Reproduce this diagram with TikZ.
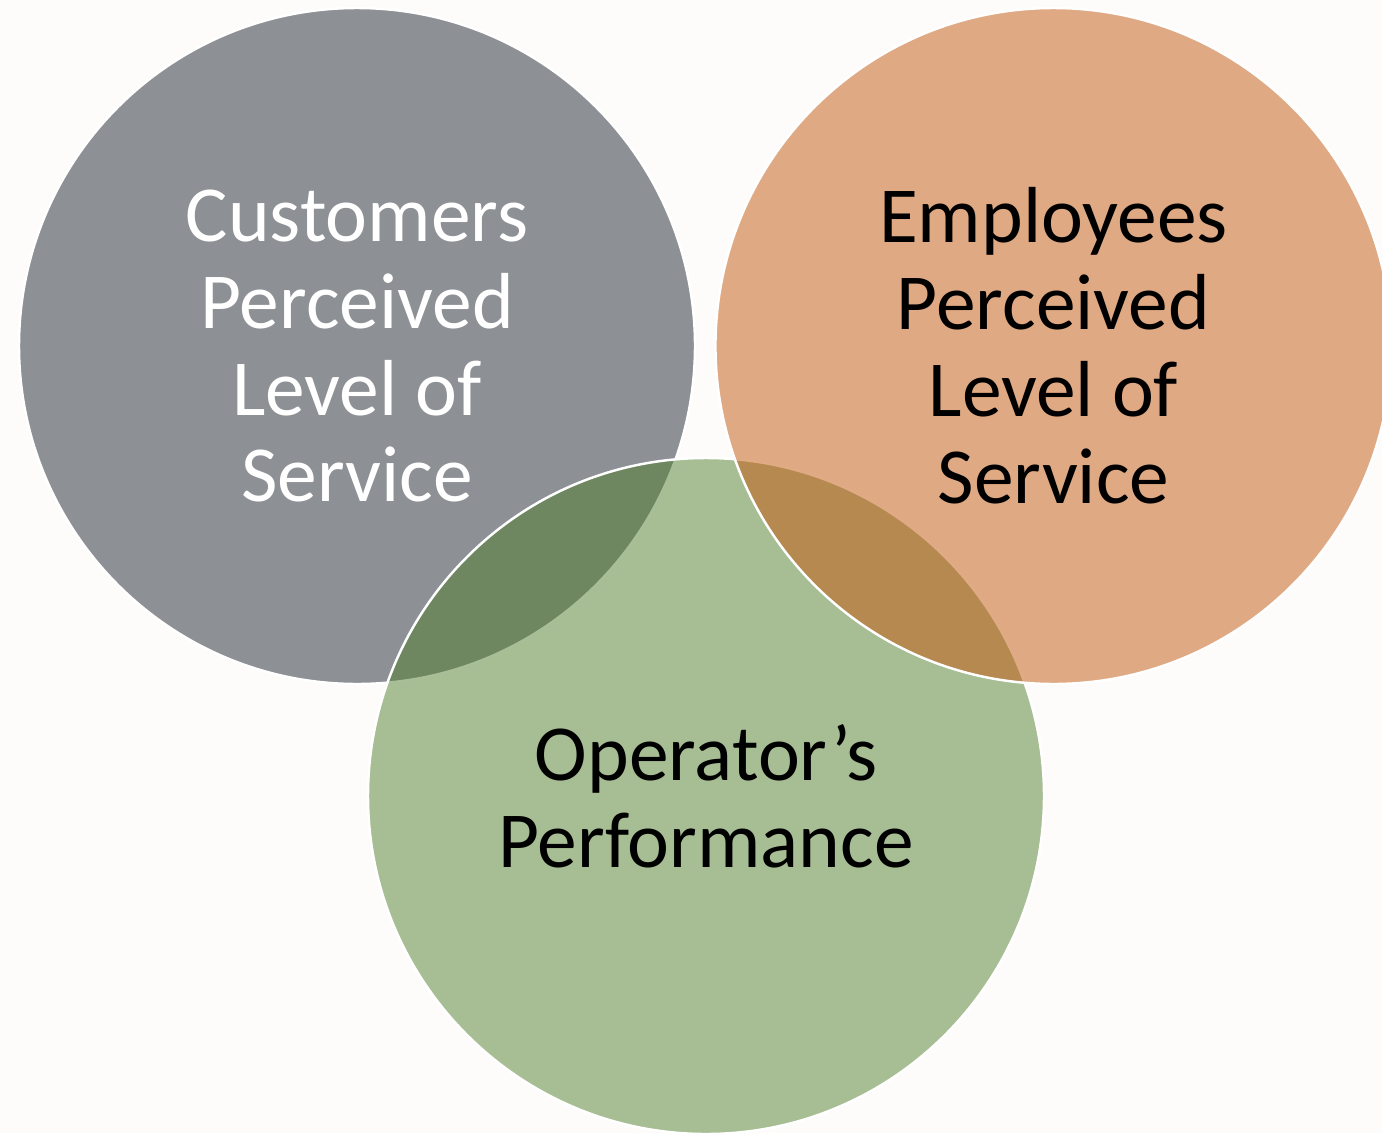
\documentclass[tikz,border=0pt]{standalone}
\usepackage{fontspec}
\setmainfont{Carlito}
\usepackage{tikz}
\usetikzlibrary{positioning}
\usepackage{xcolor}
\definecolor{VennGray}{RGB}{31,37,47}
\definecolor{VennOrange}{RGB}{195,87,13}
\definecolor{VennGreen}{RGB}{83,127,47}
\definecolor{VennPaper}{RGB}{253,252,251}

\begin{document}
\begin{tikzpicture}[
    ring/.style={circle,minimum size=6.76cm,inner sep=0pt,draw=white,line width=0.7pt,
      fill opacity=0.5,text opacity=1,align=center,
      font=\fontsize{22.6}{24.75}\selectfont}
  ]
    \useasboundingbox (0,0) rectangle (13.82,11.33);
    \fill[VennPaper] (0,0) rectangle (13.82,11.33);
    \clip (0,0) rectangle (13.82,11.33);
    \node[ring,fill=VennGray,text=white] (cust) at (3.57,7.87) {Customers\\Perceived\\Level of\\Service};
    \node[ring,fill=VennGreen] (oper) at (7.06,3.37) {Operator’s\\Performance};
    \node[ring,fill=VennOrange,right=0.18cm of cust] (empl) {Employees\\Perceived\\Level of\\Service};
  \end{tikzpicture}
\end{document}
